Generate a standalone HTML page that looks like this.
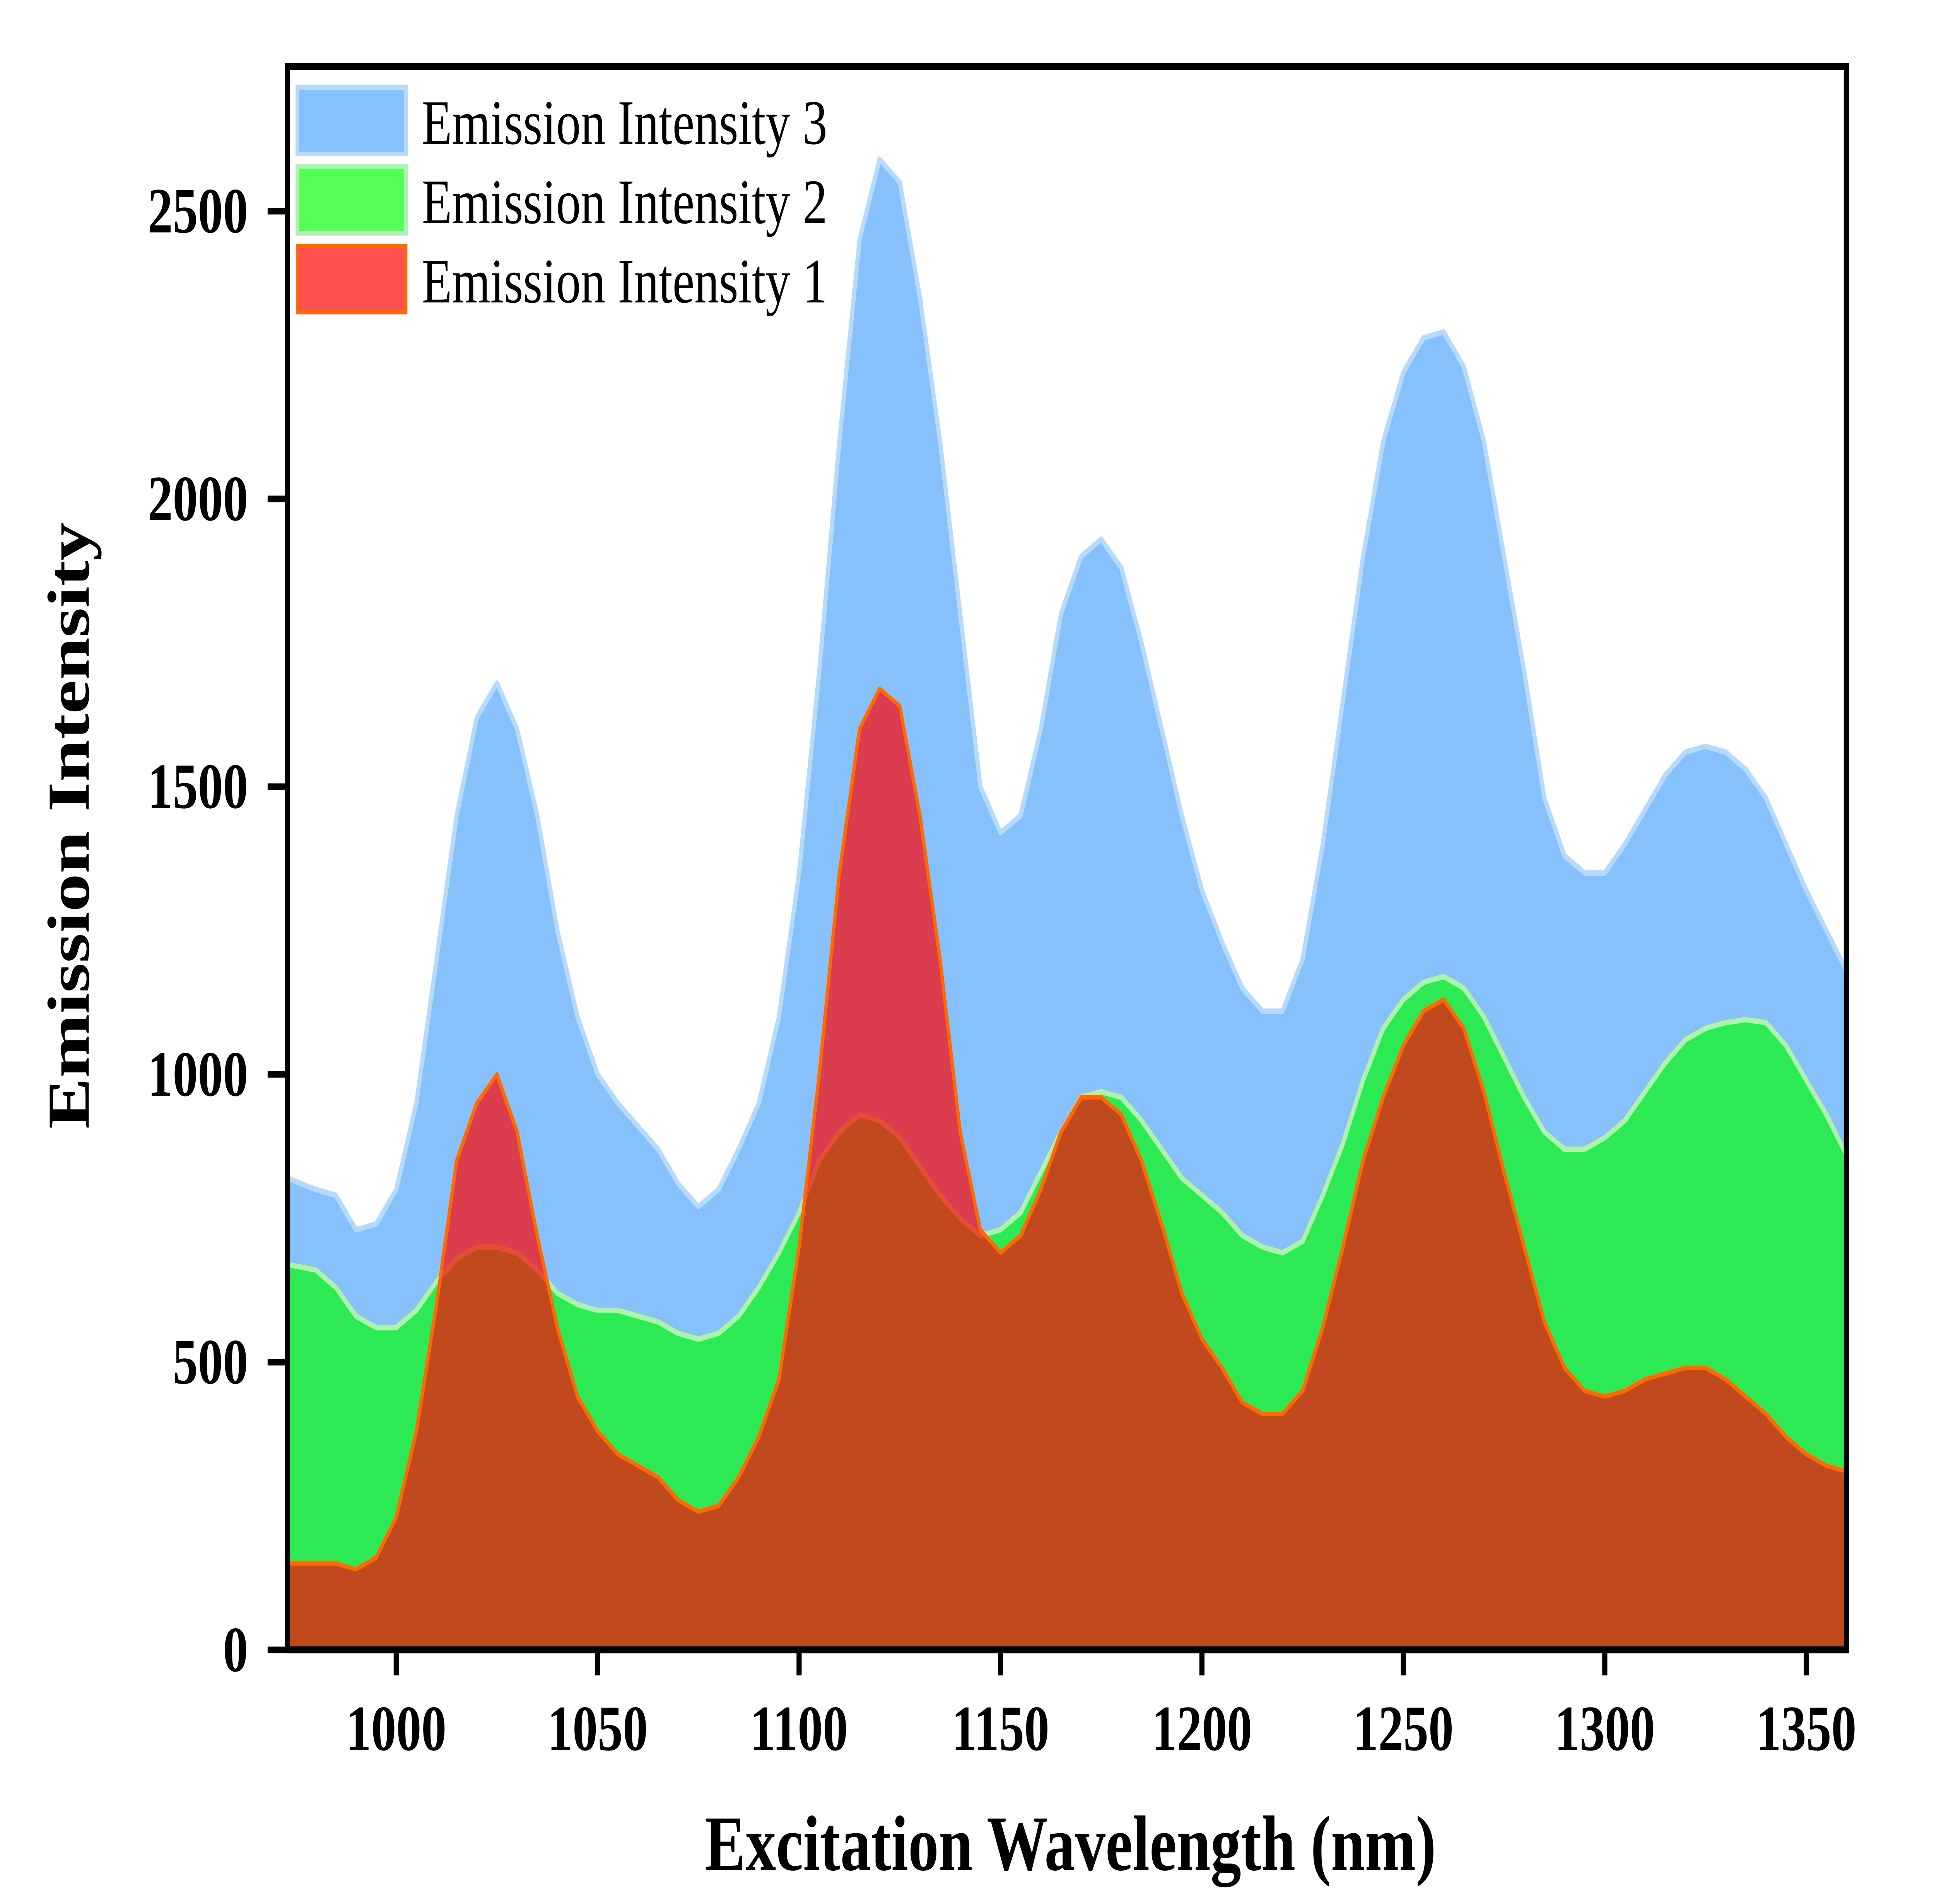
<!DOCTYPE html>
<html><head><meta charset="utf-8"><style>
html,body{margin:0;padding:0;background:#fff;width:100vw;height:100vh;overflow:hidden;}
svg{display:block;width:100vw;height:100vh;}
text{font-family:"Liberation Serif",serif;}
</style></head><body>
<svg id="chart" preserveAspectRatio="none" viewBox="0 0 6432 4923" xmlns="http://www.w3.org/2000/svg">
<defs><clipPath id="plotclip"><rect x="956" y="172" width="5185" height="4094"/></clipPath></defs>
<g id="series" clip-path="url(#plotclip)"></g>
<rect x="956" y="172" width="5185" height="4094" fill="none" stroke="#000" stroke-width="18"/>
<g id="axes"></g>
<text x="3560" y="4835" text-anchor="middle" font-size="203" font-weight="bold">Excitation Wavelength (nm)</text>
<text transform="translate(295,2135) rotate(-90)" text-anchor="middle" font-size="198" font-weight="bold">Emission Intensity</text>
<g>
<g><rect x="989" y="226" width="361" height="172" fill="#87c1fb" stroke="#b8dafa" stroke-width="12"/><text x="1403" y="372" font-size="164">Emission Intensity 3</text></g>
<g><rect x="989" y="431" width="361" height="172" fill="#55ff55" stroke="#b0f0b0" stroke-width="12"/><text x="1403" y="577" font-size="164">Emission Intensity 2</text></g>
<g><rect x="989" y="636" width="361" height="172" fill="#ff5050" stroke="#ff6a00" stroke-width="10"/><text x="1403" y="782" font-size="164">Emission Intensity 1</text></g>
</g>
</svg>
<script>
const wavelengths=[973,980,985,990,995,1000,1005,1010,1015,1020,1025,1030,1035,1040,1045,1050,1055,1060,1065,1070,1075,1080,1085,1090,1095,1100,1105,1110,1115,1120,1125,1130,1135,1140,1145,1150,1155,1160,1165,1170,1175,1180,1185,1190,1195,1200,1205,1210,1215,1220,1225,1230,1235,1240,1245,1250,1255,1260,1265,1270,1275,1280,1285,1290,1295,1300,1305,1310,1315,1320,1325,1330,1335,1340,1345,1350,1355,1360];
const intensity3=[820,800,790,730,740,800,950,1200,1450,1620,1680,1600,1450,1250,1100,1000,950,910,870,810,770,800,870,950,1100,1350,1700,2100,2450,2590,2550,2350,2100,1800,1500,1420,1450,1600,1800,1900,1930,1880,1750,1600,1450,1320,1230,1150,1110,1110,1200,1400,1650,1900,2100,2220,2280,2290,2230,2100,1900,1700,1480,1380,1350,1350,1400,1460,1520,1560,1570,1560,1530,1480,1400,1320,1250,1180];
const intensity2=[670,660,630,580,560,560,590,640,680,700,700,690,660,620,600,590,590,580,570,550,540,550,580,630,690,760,850,900,930,920,890,840,790,750,720,730,760,830,900,960,970,960,920,870,820,790,760,720,700,690,710,790,880,990,1080,1130,1160,1170,1150,1100,1030,960,900,870,870,890,920,970,1020,1060,1080,1090,1095,1090,1050,990,930,860];
const intensity1=[150,150,150,140,160,230,380,600,850,950,1000,900,720,560,440,380,340,320,300,260,240,250,300,370,470,700,1000,1350,1600,1670,1640,1450,1200,900,730,690,720,800,900,960,960,930,850,740,620,540,490,430,410,410,450,560,700,850,960,1050,1110,1130,1080,970,830,700,570,490,450,440,450,470,480,490,490,470,440,410,370,340,320,310];
const xTicks=[1000,1050,1100,1150,1200,1250,1300,1350];
const yTicks=[0,500,1000,1500,2000,2500];
const X0=956,X1=6141,Y0=4266,Y1=172,xmin=973,xmax=1360;
function sx(v){return X0+(v-xmin)/(xmax-xmin)*(X1-X0);}
function sy(v){return Y0-v*(3720/2500);}
const NS="http://www.w3.org/2000/svg";
const g=document.getElementById('series');
function area(vals,fill,op,stroke,sw,name){
  let d="M"+sx(wavelengths[0])+","+sy(0);
  wavelengths.forEach((w,i)=>{d+=" L"+sx(w)+","+sy(vals[i]);});
  d+=" L"+sx(wavelengths[wavelengths.length-1])+","+sy(0)+" Z";
  const p=document.createElementNS(NS,'path');
  p.setAttribute('d',d);p.setAttribute('fill',fill);p.setAttribute('fill-opacity',op);
  
  
  g.appendChild(p);
  let l="";wavelengths.forEach((w,i)=>{l+=(i?" L":"M")+sx(w)+","+sy(vals[i]);});
  const q=document.createElementNS(NS,'path');
  q.setAttribute('d',l);q.setAttribute('fill','none');q.setAttribute('stroke',stroke);q.setAttribute('stroke-width',sw);q.setAttribute('stroke-linejoin','round');
  
  
  g.appendChild(q);
}
area(intensity3,'#87c1fb',1,'#b8dafa',14,'intensity-3');
area(intensity2,'rgb(0,255,0)',0.667,'#b0f0b0',14,'intensity-2');
area(intensity1,'rgb(252,8,7)',0.71,'#ff6a00',11,'intensity-1');
const ax=document.getElementById('axes');
xTicks.forEach(t=>{
  const x=sx(t);
  const l=document.createElementNS(NS,'line');
  l.setAttribute('x1',x);l.setAttribute('x2',x);l.setAttribute('y1',Y0);l.setAttribute('y2',Y0+66);l.setAttribute('stroke','#000');l.setAttribute('stroke-width',17);
  
  
  ax.appendChild(l);
  const tx=document.createElementNS(NS,'text');
  tx.setAttribute('x',x);tx.setAttribute('y',4525);tx.setAttribute('text-anchor','middle');tx.setAttribute('font-size','167');tx.setAttribute('font-weight','bold');
  tx.textContent=t;
  
  
  ax.appendChild(tx);
});
yTicks.forEach(t=>{
  const y=sy(t);
  const l=document.createElementNS(NS,'line');
  l.setAttribute('x1',X0-66);l.setAttribute('x2',X0);l.setAttribute('y1',y);l.setAttribute('y2',y);l.setAttribute('stroke','#000');l.setAttribute('stroke-width',17);
  
  
  ax.appendChild(l);
  const tx=document.createElementNS(NS,'text');
  tx.setAttribute('x',825);tx.setAttribute('y',y+55);tx.setAttribute('text-anchor','end');tx.setAttribute('font-size','167');tx.setAttribute('font-weight','bold');
  tx.textContent=t;
  
  
  ax.appendChild(tx);
});
</script>
</body></html>
